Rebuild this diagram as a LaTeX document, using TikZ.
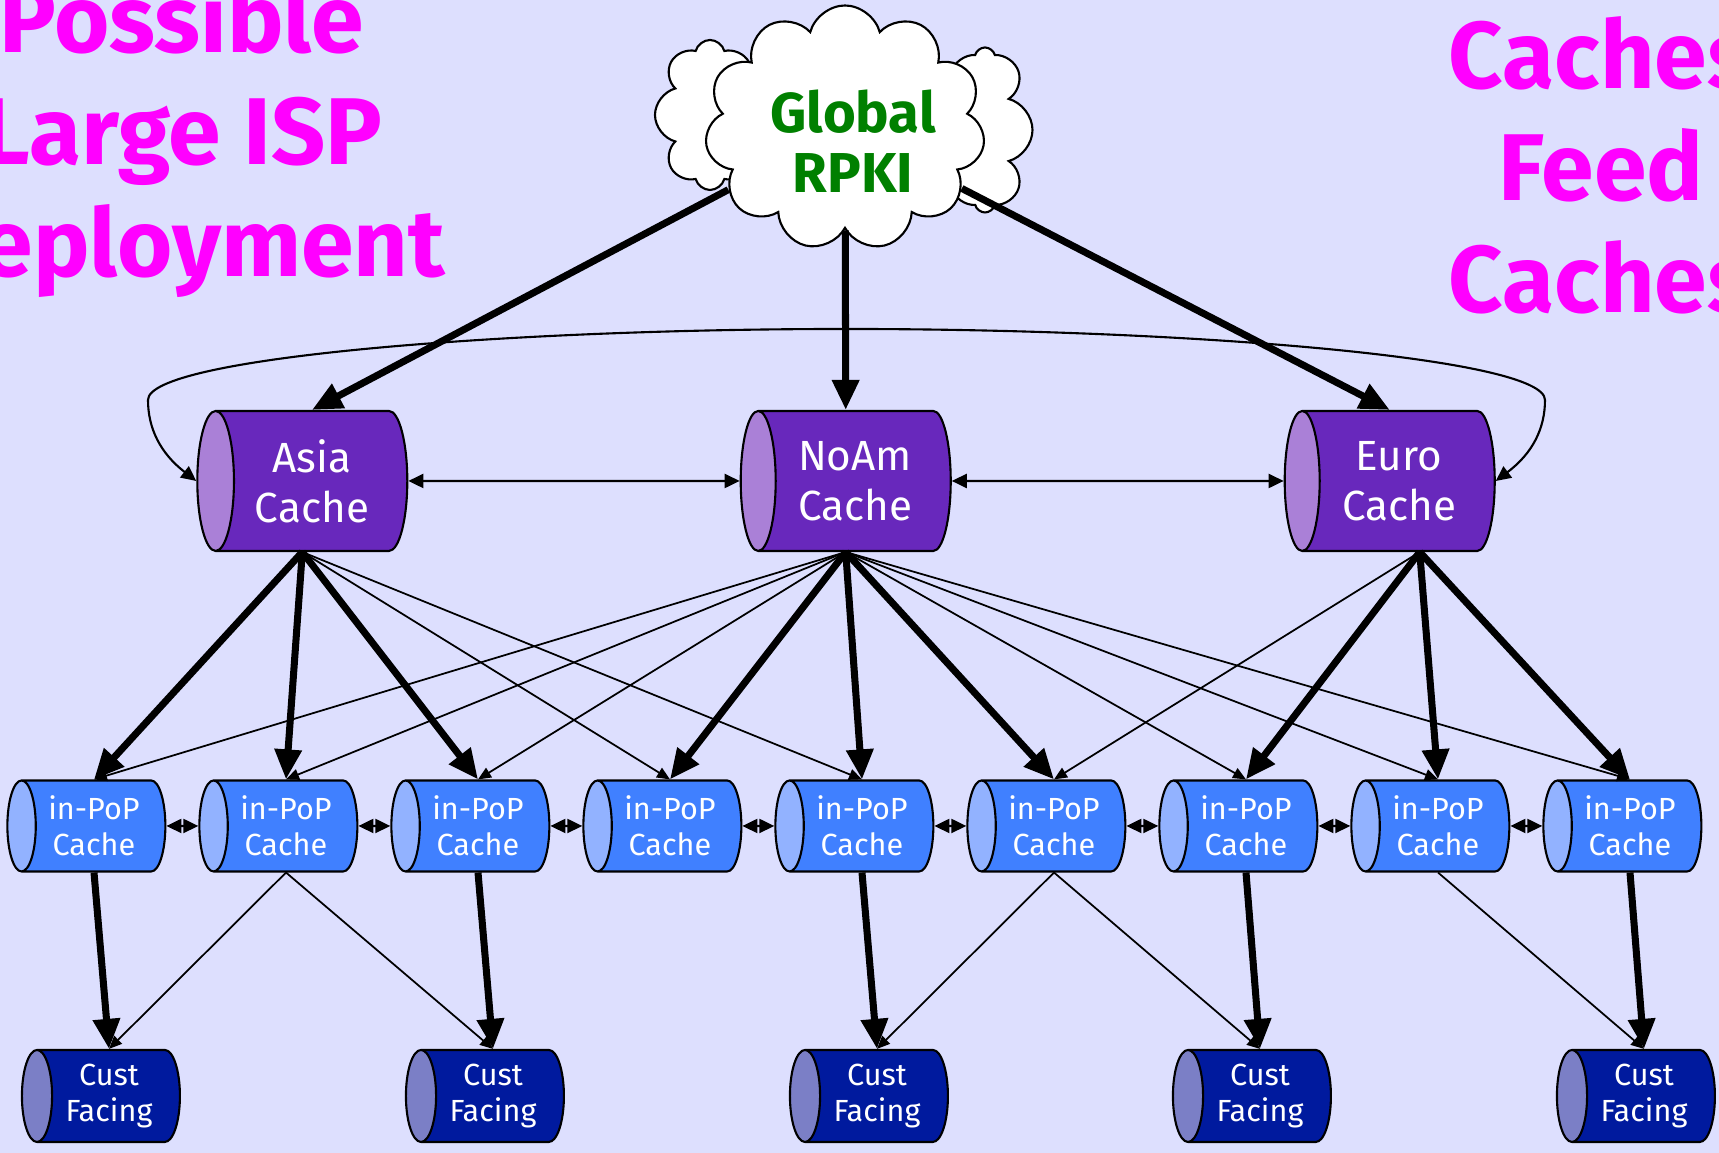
\documentclass[tikz,border=0pt]{standalone}
\usepackage{fontspec}
\setmainfont{Fira Sans}
\usetikzlibrary{shapes.geometric,shapes.symbols,arrows.meta}

\definecolor{fondo}{RGB}{221,223,254}
\definecolor{regbody}{RGB}{104,40,188}
\definecolor{regend}{RGB}{170,128,215}
\definecolor{popbody}{RGB}{64,128,255}
\definecolor{popend}{RGB}{146,178,255}
\definecolor{custbody}{RGB}{0,26,158}
\definecolor{custend}{RGB}{123,127,198}
\definecolor{rpkigreen}{RGB}{0,128,0}
\definecolor{titlemagenta}{RGB}{255,0,255}

\begin{document}
\begin{tikzpicture}[
        % Cachés regionales (cilindros morados)
        bigcache/.style={cylinder, shape border rotate=180, aspect=0.44, draw, line width=0.6pt,
            cylinder uses custom fill, cylinder body fill=regbody, cylinder end fill=regend,
            minimum width=1.4cm, minimum height=2.1cm, inner sep=0pt, text=white, align=center,
            font=\fontsize{12}{14.2}\selectfont},
        % Cachés dentro de cada PoP (cilindros azules)
        popcache/.style={cylinder, shape border rotate=180, aspect=0.47, draw, line width=0.6pt,
            cylinder uses custom fill, cylinder body fill=popbody, cylinder end fill=popend,
            minimum width=0.91cm, minimum height=1.58cm, inner sep=0pt, text=white, align=center,
            font=\fontsize{8.7}{10.3}\selectfont},
        % Cachés de cara al cliente (cilindros azul oscuro)
        custcache/.style={cylinder, shape border rotate=180, aspect=0.47, draw, line width=0.6pt,
            cylinder uses custom fill, cylinder body fill=custbody, cylinder end fill=custend,
            minimum width=0.92cm, minimum height=1.58cm, inner sep=0pt, text=white, align=center,
            font=\fontsize{8.7}{10.3}\selectfont},
        % Nube del RPKI global
        puff/.style={cloud, draw, fill=white, line width=0.6pt, inner sep=0pt},
        % Flechas (gruesas, finas y dobles)
        fatarrow/.style={line width=2pt, -{Triangle[length=3mm,width=2.6mm]}},
        thinarrow/.style={line width=0.5pt, -{Triangle[length=1.3mm,width=1.1mm]}},
        botharrow/.style={line width=0.6pt, {Triangle[length=1.5mm,width=1.4mm]}-{Triangle[length=1.5mm,width=1.4mm]}},
        % Títulos en magenta
        headline/.style={text=titlemagenta, align=center, font=\bfseries\fontsize{27}{32}\selectfont}
    ]

        % Fondo y recorte
        \useasboundingbox (0,0) rectangle (17.19,11.53);
        \clip (0,0) rectangle (17.19,11.53);
        \fill[fondo] (0,0) rectangle (17.19,11.53);

        % Títulos (la base es la de la última línea)
        \node[headline, anchor=base] (lefttitle) at (1.82,8.76) {Possible\\Large ISP\\Deployment};
        \node[headline, anchor=base] (righttitle) at (16.01,8.40) {Caches\\Feed\\Caches};

        % Nube del RPKI global
        \node[puff, cloud puffs=8, minimum width=1.1cm, minimum height=1.5cm] (rpkiwest) at (7.10,10.38) {};
        \node[puff, cloud puffs=8, minimum width=0.95cm, minimum height=1.65cm] (rpkieast) at (9.85,10.23) {};
        \node[puff, cloud puffs=11, minimum width=2.8cm, minimum height=2.45cm,
            label={[text=rpkigreen, align=center, xshift=0.8mm, yshift=-1.3mm,
                font=\bfseries\fontsize{16}{17}\selectfont]center:Global\\RPKI}] (rpki) at (8.45,10.25) {};

        % Cachés regionales
        \node[bigcache] (asia) at (3.12,6.72) {Asia\\Cache};
        \node[bigcache] (noam) at (8.55,6.72) {NoAm\\Cache};
        \node[bigcache] (euro) at (13.99,6.72) {Euro\\Cache};
        \coordinate (asiafoot) at (asia.shape center |- asia.south);
        \coordinate (noamtop) at (noam.shape center |- noam.north);
        \coordinate (noamfoot) at (noam.shape center |- noam.south);
        \coordinate (eurotop) at (euro.shape center |- euro.north);
        \coordinate (eurofoot) at ([xshift=3mm]euro.shape center |- euro.south);

        % Cachés in-PoP
        \node[popcache] (pop1) at (0.94,3.27) {in-PoP\\Cache};
        \node[popcache] (pop2) at (2.86,3.27) {in-PoP\\Cache};
        \node[popcache] (pop3) at (4.78,3.27) {in-PoP\\Cache};
        \node[popcache] (pop4) at (6.70,3.27) {in-PoP\\Cache};
        \node[popcache] (pop5) at (8.62,3.27) {in-PoP\\Cache};
        \node[popcache] (pop6) at (10.54,3.27) {in-PoP\\Cache};
        \node[popcache] (pop7) at (12.46,3.27) {in-PoP\\Cache};
        \node[popcache] (pop8) at (14.38,3.27) {in-PoP\\Cache};
        \node[popcache] (pop9) at (16.30,3.27) {in-PoP\\Cache};

        % Cachés de cliente
        \node[custcache] (cust1) at (1.09,0.57) {Cust\\Facing};
        \node[custcache] (cust2) at (4.93,0.57) {Cust\\Facing};
        \node[custcache] (cust3) at (8.77,0.57) {Cust\\Facing};
        \node[custcache] (cust4) at (12.60,0.57) {Cust\\Facing};
        \node[custcache] (cust5) at (16.44,0.57) {Cust\\Facing};

        % RPKI hacia las cachés regionales
        \draw[fatarrow] (rpki) -- (asia.north);
        \draw[fatarrow] (rpki) -- (noamtop);
        \draw[fatarrow] (rpki) -- (eurotop);

        % Cachés regionales entre sí
        \draw[botharrow] (asia.east) -- (noam.west);
        \draw[botharrow] (noam.east) -- (euro.west);
        \draw[botharrow] (asia.west) .. controls (1.6,7.0) and (1.48,7.25) .. (1.48,7.53)
            .. controls (1.48,7.95) and (5.0,8.24) .. (8.46,8.24)
            .. controls (11.9,8.24) and (15.45,7.95) .. (15.45,7.53)
            .. controls (15.45,7.25) and (15.33,7.0) .. (euro.east);

        % Asia hacia los PoP
        \draw[fatarrow] (asiafoot) -- (pop1.north);
        \draw[fatarrow] (asiafoot) -- (pop2.north);
        \draw[fatarrow] (asiafoot) -- (pop3.north);
        \draw[thinarrow] (asiafoot) -- (pop4.north);
        \draw[thinarrow] (asiafoot) -- (pop5.north);

        % NoAm hacia los PoP
        \draw[thinarrow] (noamfoot) -- (pop1.north);
        \draw[thinarrow] (noamfoot) -- (pop2.north);
        \draw[thinarrow] (noamfoot) -- (pop3.north);
        \draw[fatarrow] (noamfoot) -- (pop4.north);
        \draw[fatarrow] (noamfoot) -- (pop5.north);
        \draw[fatarrow] (noamfoot) -- (pop6.north);
        \draw[thinarrow] (noamfoot) -- (pop7.north);
        \draw[thinarrow] (noamfoot) -- (pop8.north);
        \draw[thinarrow] (noamfoot) -- (pop9.north);

        % Euro hacia los PoP
        \draw[thinarrow] (eurofoot) -- (pop6.north);
        \draw[fatarrow] (eurofoot) -- (pop7.north);
        \draw[fatarrow] (eurofoot) -- (pop8.north);
        \draw[fatarrow] (eurofoot) -- (pop9.north);

        % PoP vecinos
        \draw[botharrow] (pop1.east) -- (pop2.west);
        \draw[botharrow] (pop2.east) -- (pop3.west);
        \draw[botharrow] (pop3.east) -- (pop4.west);
        \draw[botharrow] (pop4.east) -- (pop5.west);
        \draw[botharrow] (pop5.east) -- (pop6.west);
        \draw[botharrow] (pop6.east) -- (pop7.west);
        \draw[botharrow] (pop7.east) -- (pop8.west);
        \draw[botharrow] (pop8.east) -- (pop9.west);

        % PoP hacia las cachés de cliente
        \draw[thinarrow] (pop2.south) -- (cust1.north);
        \draw[thinarrow] (pop2.south) -- (cust2.north);
        \draw[thinarrow] (pop6.south) -- (cust3.north);
        \draw[thinarrow] (pop6.south) -- (cust4.north);
        \draw[thinarrow] (pop8.south) -- (cust5.north);
        \draw[fatarrow] (pop1.south) -- (cust1.north);
        \draw[fatarrow] (pop3.south) -- (cust2.north);
        \draw[fatarrow] (pop5.south) -- (cust3.north);
        \draw[fatarrow] (pop7.south) -- (cust4.north);
        \draw[fatarrow] (pop9.south) -- (cust5.north);

    \end{tikzpicture}
\end{document}
